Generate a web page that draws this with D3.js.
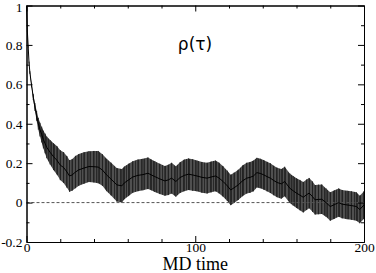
<!DOCTYPE html>
<html>
<head>
<meta charset="utf-8">
<script src="https://cdn.jsdelivr.net/npm/d3@7.9.0/dist/d3.min.js"></script>
<style>
  body { margin: 0; background: #fff; }
  svg { display: block; }
</style>
</head>
<body>
<svg id="chart" width="376" height="273"></svg>
<script>
// autocorrelation rho(tau) vs MD time, mean and error half-width
const times = [
  0, 0.5, 1, 1.5, 2, 3, 4, 5, 6, 7,
  8, 9, 10, 11, 12, 14, 16, 18, 20, 22,
  24, 25.5, 27, 29, 31, 34, 37, 40, 42.5, 45,
  47.5, 50, 53.5, 56.5, 58, 60.5, 63, 66, 69, 72,
  74, 76, 79, 82, 84, 86, 88.5, 91, 93.5, 96,
  98.5, 101, 104, 107, 109.5, 112, 114, 116.5, 119, 121,
  123, 125.5, 128, 130.5, 132.5, 134.5, 136.5, 138.5, 140.5, 142.5,
  144.5, 146.5, 148.5, 151, 153, 156, 158, 160, 162, 164,
  166, 167.5, 169.5, 171, 173, 175, 177.5, 180, 182.5, 185,
  187, 190, 192.5, 195.5, 197.5, 200
];
const rho = [
  1.0, 0.87, 0.79, 0.71, 0.66, 0.595, 0.535, 0.485, 0.44, 0.40,
  0.37, 0.345, 0.32, 0.30, 0.28, 0.255, 0.233, 0.215, 0.19, 0.178,
  0.155, 0.135, 0.14, 0.155, 0.166, 0.175, 0.183, 0.182, 0.18, 0.165,
  0.14, 0.12, 0.09, 0.085, 0.10, 0.115, 0.13, 0.138, 0.142, 0.149,
  0.14, 0.132, 0.12, 0.11, 0.115, 0.124, 0.107, 0.127, 0.138, 0.144,
  0.14, 0.135, 0.128, 0.124, 0.13, 0.135, 0.125, 0.107, 0.085, 0.064,
  0.075, 0.09, 0.11, 0.124, 0.128, 0.135, 0.152, 0.148, 0.141, 0.132,
  0.124, 0.112, 0.102, 0.095, 0.107, 0.073, 0.06, 0.048, 0.038, 0.027,
  0.04, 0.048, 0.03, 0.014, 0.016, 0.017, 0.0, -0.02, -0.01, 0.0,
  -0.008, -0.012, -0.015, -0.02, -0.035, -0.012
];
const err = [
  0, 0.002, 0.003, 0.005, 0.006, 0.01, 0.015, 0.02, 0.025, 0.03,
  0.035, 0.04, 0.045, 0.05, 0.055, 0.062, 0.068, 0.072, 0.076, 0.078,
  0.08, 0.08, 0.08, 0.082, 0.08, 0.08, 0.078, 0.08, 0.082, 0.08,
  0.082, 0.083, 0.085, 0.085, 0.083, 0.082, 0.08, 0.08, 0.08, 0.08,
  0.078, 0.078, 0.077, 0.075, 0.077, 0.078, 0.077, 0.078, 0.08, 0.08,
  0.08, 0.078, 0.078, 0.078, 0.078, 0.078, 0.078, 0.077, 0.077, 0.077,
  0.077, 0.077, 0.078, 0.078, 0.078, 0.078, 0.075, 0.075, 0.075, 0.075,
  0.075, 0.075, 0.075, 0.075, 0.075, 0.075, 0.075, 0.075, 0.077, 0.077,
  0.077, 0.077, 0.077, 0.075, 0.075, 0.075, 0.072, 0.072, 0.072, 0.072,
  0.072, 0.072, 0.072, 0.072, 0.07, 0.07
];
const xMajor = [0, 100, 200];
const xMinor = [20, 40, 60, 80, 120, 140, 160, 180];
const yMajor = [-0.2, 0, 0.2, 0.4, 0.6, 0.8, 1];
const yMinor = [-0.1, 0.1, 0.3, 0.5, 0.7, 0.9];

const data = times.map((t, i) => ({ t, v: rho[i], e: err[i] }));

const svg = d3.select('#chart');
const plotL = 26.5, plotR = 364, plotT = 5.5, plotB = 242;

const x = d3.scaleLinear().domain([0, 200]).range([plotL, plotR]);
const y = d3.scaleLinear().domain([-0.2, 1]).range([plotB, plotT]);

// striped fill so the band looks like dense error bars
const pat = svg.append('defs').append('pattern')
  .attr('id', 'bars')
  .attr('patternUnits', 'userSpaceOnUse')
  .attr('width', 3).attr('height', 10);
pat.append('rect').attr('width', 3).attr('height', 10).attr('fill', '#505050');
pat.append('rect').attr('width', 1).attr('height', 10).attr('fill', '#282828');

// error band
svg.append('path')
  .datum(data)
  .attr('fill', 'url(#bars)')
  .attr('d', d3.area().x(d => x(d.t)).y0(d => y(d.v - d.e)).y1(d => y(d.v + d.e)));

svg.selectAll('line.bar')
  .data(data)
  .join('line')
  .attr('class', 'bar')
  .attr('x1', d => x(d.t)).attr('x2', d => x(d.t))
  .attr('y1', d => y(d.v - d.e)).attr('y2', d => y(d.v + d.e))
  .attr('stroke', '#222')
  .attr('stroke-width', 1);

// zero line
svg.append('line')
  .attr('x1', x(0)).attr('x2', x(200))
  .attr('y1', y(0)).attr('y2', y(0))
  .attr('stroke', '#555')
  .attr('stroke-dasharray', '3,2')
  .attr('stroke-width', 1);

// mean
svg.append('path')
  .datum(data)
  .attr('fill', 'none')
  .attr('stroke', '#000')
  .attr('stroke-width', 1)
  .attr('d', d3.line().x(d => x(d.t)).y(d => y(d.v)));

// axes, ticks pointing inward
const fmt = d => String(d); // plain hyphen minus, like the original
function axis(gen, tr, vals, size, labels, pad) {
  const g = svg.append('g')
    .attr('transform', tr)
    .call(gen.tickValues(vals).tickSizeInner(-size).tickSizeOuter(0).tickPadding(pad)
      .tickFormat(labels ? fmt : () => ''));
  g.select('.domain').attr('stroke', '#000');
  g.selectAll('text')
    .attr('font-family', '"Liberation Serif", "Times New Roman", serif')
    .attr('font-size', 13.5)
    .attr('fill', '#000');
  return g;
}
axis(d3.axisBottom(x), `translate(0,${plotB})`, xMajor, 6, true, 0);
axis(d3.axisBottom(x), `translate(0,${plotB})`, xMinor, 3, false, 0);
axis(d3.axisTop(x), `translate(0,${plotT})`, xMajor, 6, false, 1);
axis(d3.axisTop(x), `translate(0,${plotT})`, xMinor, 3, false, 1);
axis(d3.axisLeft(y), `translate(${plotL},0)`, yMajor, 6, true, 4);
axis(d3.axisLeft(y), `translate(${plotL},0)`, yMinor, 3, false, 4);
axis(d3.axisRight(y), `translate(${plotR},0)`, yMajor, 6, false, 4);
axis(d3.axisRight(y), `translate(${plotR},0)`, yMinor, 3, false, 4);

// keep the top "1" inside the picture
svg.selectAll('text').filter(function () { return this.textContent === '1'; })
  .attr('dy', '0.45em');

svg.append('text')
  .attr('x', (plotL + plotR) / 2)
  .attr('y', 270)
  .attr('text-anchor', 'middle')
  .attr('font-family', '"Liberation Serif", "Times New Roman", serif')
  .attr('font-size', 18)
  .text('MD time');

svg.append('text')
  .attr('x', 195)
  .attr('y', 50)
  .attr('text-anchor', 'middle')
  .attr('font-family', '"DejaVu Sans", sans-serif')
  .attr('font-size', 17)
  .text('ρ(τ)');
</script>
</body>
</html>
